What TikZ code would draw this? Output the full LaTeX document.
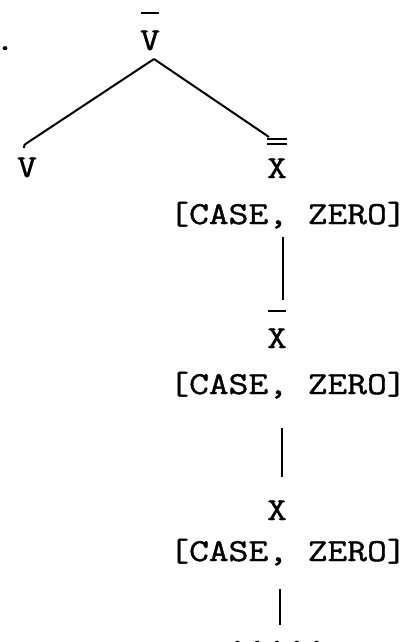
\documentclass[tikz,border=0pt]{standalone}
\usepackage{fontspec}
\setmonofont[FakeStretch=1.2, FakeBold=1.2]{Latin Modern Mono}
\usetikzlibrary{calc}

% bars over a category label
\newcommand{\onebar}[1]{\vbox{\offinterlineskip\halign{\hfil##\hfil\cr
  \vrule width 0.55em height 1bp depth 0pt\cr\noalign{\kern 8bp}#1\cr}}}
\newcommand{\twobar}[1]{\vbox{\offinterlineskip\halign{\hfil##\hfil\cr
  \vrule width 0.6em height 1bp depth 0pt\cr\noalign{\kern 1.5bp}
  \vrule width 0.6em height 1bp depth 0pt\cr\noalign{\kern 6.5bp}#1\cr}}}

\begin{document}
\begin{tikzpicture}[
        x=0.5bp, y=-0.5bp,
        every node/.style={font=\ttfamily\fontsize{16bp}{20bp}\selectfont, inner sep=0pt},
        cat/.style={anchor=base},
        edge/.style={line width=1bp}
    ]
        \useasboundingbox (0,0) rectangle (414,642);
        \clip (0,0) rectangle (414,642);

        \node[cat] (mark) at (5,50) {.};
        \node[cat] (vtop) at (150,50) {\onebar{V}};
        \node[cat] (v) at (27,177) {V};
        \node[cat] (x1) at (277,178) {\twobar{X}};
        \node[cat] (c1) at (288,224) {[CASE, ZERO]};
        \node[cat] (x2) at (277,348) {\onebar{X}};
        \node[cat] (c2) at (288,394) {[CASE, ZERO]};
        \node[cat] (x3) at (277,520) {X};
        \node[cat] (c3) at (288,561) {[CASE, ZERO]};
        \node[cat] (more) at (277,644.5) {.....};

        \draw[edge] ($(vtop.base)+(4,9)$) -- ($(v.base)+(0,-34)$)
            .. controls ($(v.base)+(-3,-32)$) .. ($(v.base)+(-3,-29)$);
        \draw[edge] ($(vtop.base)+(4,9)$) -- ($(x1.base)+(-8,-41)$);
        \draw[edge] ($(c1.base)+(-5,13)$) -- ($(x2.base)+(6,-48)$);
        \draw[edge] ($(c2.base)+(-6,34)$) -- ($(x3.base)+(5,-43)$);
        \draw[edge] ($(c3.base)+(-8,28)$) -- ($(more.base)+(3,-19.5)$);
    \end{tikzpicture}
\end{document}
